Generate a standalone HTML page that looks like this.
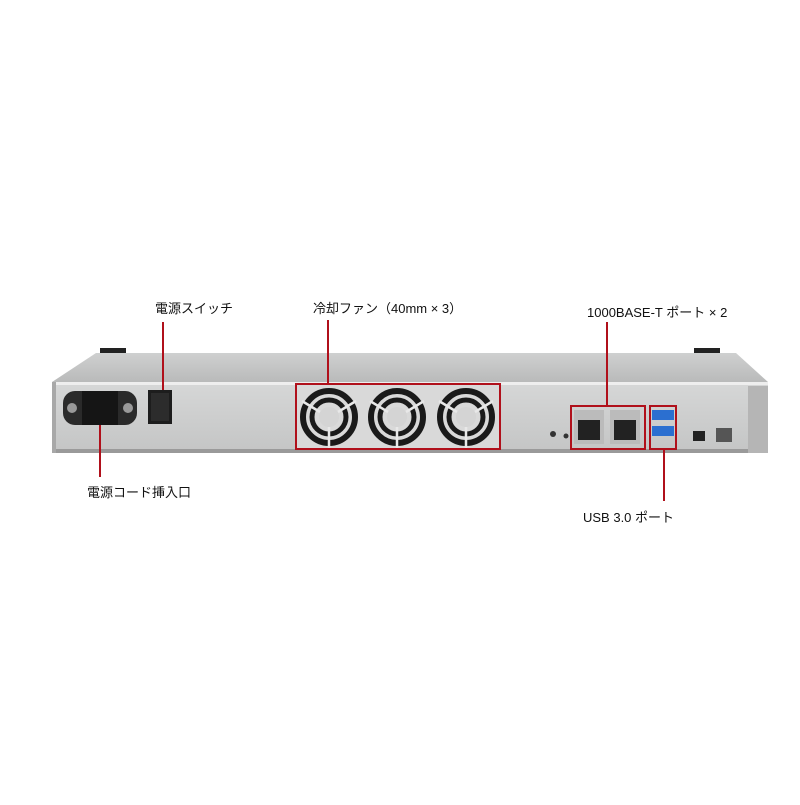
<!DOCTYPE html>
<html><head><meta charset="utf-8"><style>
html,body{margin:0;padding:0;background:#fff;}
svg text{font-family:"Liberation Sans","Noto Sans CJK JP",sans-serif;font-size:13px;fill:#111;}
</style></head><body>
<svg width="800" height="800" viewBox="0 0 800 800" xmlns="http://www.w3.org/2000/svg">
<defs>
<linearGradient id="top" x1="0" y1="0" x2="0" y2="1"><stop offset="0" stop-color="#cfd0d0"/><stop offset="1" stop-color="#b9baba"/></linearGradient>
<linearGradient id="front" x1="0" y1="0" x2="0" y2="1"><stop offset="0" stop-color="#d6d7d7"/><stop offset="1" stop-color="#c4c5c5"/></linearGradient>
<g id="fan">
<circle r="26" fill="none" stroke="#1a1a1a" stroke-width="6"/>
<circle r="17" fill="none" stroke="#1a1a1a" stroke-width="5"/>
<circle r="10" fill="#d4d4d4"/>
<g stroke="#e8e8e8" stroke-width="2.5">
<line x1="0" y1="10" x2="0" y2="31"/>
<line x1="-9" y1="-5" x2="-27" y2="-16"/>
<line x1="9" y1="-5" x2="27" y2="-16"/>
</g>
</g>
</defs>
<!-- handles -->
<rect x="100" y="348" width="26" height="16" fill="#222"/>
<rect x="694" y="348" width="26" height="16" fill="#222"/>
<!-- top face -->
<polygon points="96,353 736,353 768,382 52,382" fill="url(#top)"/>
<!-- front face -->
<rect x="52" y="382" width="716" height="71" fill="url(#front)"/>
<rect x="52" y="382" width="716" height="3" fill="#eee"/>
<rect x="52" y="449" width="716" height="4" fill="#9a9a9a"/>
<rect x="52" y="382" width="4" height="71" fill="#a8a8a8"/>
<rect x="748" y="386" width="20" height="67" fill="#b5b5b5"/>
<!-- power inlet -->
<rect x="63" y="391" width="74" height="34" rx="12" fill="#2a2a2a"/>
<circle cx="72" cy="408" r="5" fill="#999"/><circle cx="128" cy="408" r="5" fill="#999"/>
<rect x="82" y="391" width="36" height="34" fill="#151515"/>
<!-- switch -->
<rect x="148" y="390" width="24" height="34" fill="#1d1d1d"/>
<rect x="151" y="393" width="18" height="28" fill="#2c2c2c"/>
<!-- fans -->
<rect x="296" y="384" width="204" height="65" fill="#d9d9d9"/>
<use href="#fan" x="329" y="417"/>
<use href="#fan" x="397" y="417"/>
<use href="#fan" x="466" y="417"/>
<!-- LAN -->
<rect x="574" y="410" width="30" height="34" fill="#bbb"/><rect x="578" y="420" width="22" height="20" fill="#222"/>
<rect x="610" y="410" width="30" height="34" fill="#bbb"/><rect x="614" y="420" width="22" height="20" fill="#222"/>
<circle cx="553" cy="434" r="3" fill="#333"/><circle cx="566" cy="436" r="2.5" fill="#333"/>
<!-- USB -->
<rect x="652" y="410" width="22" height="10" fill="#2b6fd0"/>
<rect x="652" y="426" width="22" height="10" fill="#2b6fd0"/>
<rect x="693" y="431" width="12" height="10" fill="#222"/>
<rect x="716" y="428" width="16" height="14" fill="#555"/>
<!-- red boxes -->
<g fill="none" stroke="#b0101b" stroke-width="2">
<rect x="296" y="384" width="204" height="65"/>
<rect x="571" y="406" width="74" height="43"/>
<rect x="650" y="406" width="26" height="43"/>
<line x1="163" y1="322" x2="163" y2="390"/>
<line x1="328" y1="320" x2="328" y2="384"/>
<line x1="607" y1="322" x2="607" y2="406"/>
<line x1="664" y1="449" x2="664" y2="501"/>
<line x1="100" y1="425" x2="100" y2="477"/>
</g>
<text x="155" y="313">電源スイッチ</text>
<text x="313" y="313">冷却ファン（40mm × 3）</text>
<text x="587" y="317">1000BASE-T ポート × 2</text>
<text x="87" y="497">電源コード挿入口</text>
<text x="583" y="522">USB 3.0 ポート</text>
</svg>
</body></html>
